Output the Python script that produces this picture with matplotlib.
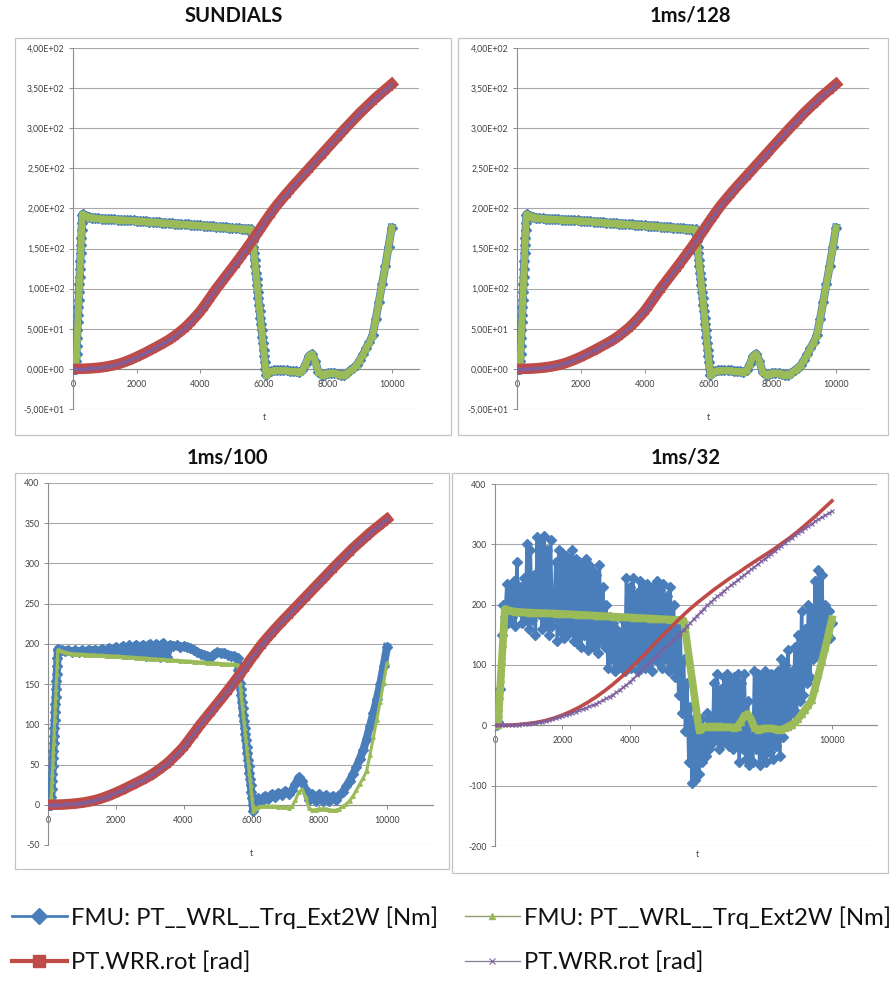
import numpy as np
import matplotlib.pyplot as plt
import matplotlib.transforms as mtransforms
from matplotlib.lines import Line2D
from matplotlib.patches import Rectangle
from matplotlib.ticker import FuncFormatter, MultipleLocator

# =========================
# DATOS
# =========================
C_BLUE = "#4A7EBB"
C_RED = "#BE4B48"
C_GREEN = "#9BBB59"
C_PURPLE = "#7D60A0"

# rotación de referencia (PT.WRR.rot), paso 100
t_rot = np.arange(0, 10001, 100)
rot_ref = [0, 0, 0.1, 0.2, 0.3, 0.5,
           0.8, 1.1, 1.5, 2.0, 2.5,
           3.2, 4.0, 4.9, 5.9, 7.0,
           8.4, 9.9, 11.5, 13.2, 15.0,
           16.9, 18.8, 20.8, 22.9, 25.0,
           27.1, 29.2, 31.4, 33.7, 36.0,
           38.7, 41.5, 44.5, 47.7, 51.0,
           54.8, 58.8, 63.0, 67.4, 72.0,
           77.4, 83.0, 88.6, 94.3, 100.0,
           105.2, 110.4, 115.6, 120.8, 126.0,
           131.3, 136.6, 142.0, 147.5, 153.0,
           158.7, 164.4, 170.2, 176.1, 182.0,
           187.8, 193.5, 199.0, 204.2, 209.0,
           213.8, 218.5, 223.1, 227.6, 232.0,
           236.4, 240.8, 245.2, 249.6, 254.0,
           258.4, 262.8, 267.2, 271.6, 276.0,
           280.4, 284.8, 289.2, 293.6, 298.0,
           302.2, 306.4, 310.6, 314.8, 319.0,
           322.8, 326.6, 330.4, 334.2, 338.0,
           341.4, 344.8, 348.2, 351.6, 355.0]

# rotación en 1ms/32
t_red32 = np.arange(0, 10001, 250)
rot_32 = [0, 0, 0.5, 1.5, 3, 5, 8, 12, 17, 23,
          30, 38, 47, 57, 68, 80, 93, 107, 121, 136,
          150, 164, 178, 191, 203, 214, 225, 235, 245, 254,
          264, 273, 282, 291, 301, 311, 322, 334, 346, 359,
          372]

# par (torque): tramos con distinto muestreo
t_rise = np.array([0, 30, 60] + list(range(90, 300, 10)))
t_plat = np.arange(300, 5601, 100)
t_drop = np.arange(5620, 6061, 20)
t_tail = np.arange(6100, 10001, 100)
t_trq = np.concatenate([t_rise, t_plat, t_drop, t_tail])

rise_ref = [0, 0, 0, 0, 10, 19, 29, 38, 48, 58, 67, 77, 86, 96, 106,
            115, 125, 134, 144, 154, 163, 173, 182, 192]
plat_ref = [193, 191, 189.5, 188.5, 188, 187.5, 187.2, 187, 186.8, 186.6,
            186.4, 186.1, 185.9, 185.6, 185.4, 185.2, 185, 184.8, 184.5, 184.2,
            183.9, 183.6, 183.3, 183, 182.7, 182.4, 182.1, 181.8, 181.5, 181.2,
            180.9, 180.6, 180.3, 180, 179.7, 179.4, 179.1, 178.8, 178.5, 178.2,
            177.9, 177.6, 177.3, 177, 176.7, 176.4, 176.1, 175.8, 175.5, 175.2,
            175, 174.8, 174.6, 174.2]
drop_ref = [168, 160, 152, 144, 136, 128, 120, 112, 104, 96, 88, 80, 72,
            64, 56, 48, 40, 32, 24, 16, 8, 0, -8]
tail_ref = [-5, -3, -2, -2, -2, -2, -2, -3, -3, -3,
            -4, -2, 6, 16, 19, 10, -4, -7, -6, -5,
            -5, -5, -6, -7, -7, -5, -2, 1, 5, 11,
            18, 26, 33, 42, 62, 84, 106, 128, 152, 176]

plat_100 = [194, 192, 191, 192, 190, 192, 190, 192, 190, 193,
            191, 193, 190, 194, 190, 195, 189, 196, 189, 197,
            188, 198, 187, 199, 186, 199, 185, 200, 185, 200,
            184, 201, 184, 199, 197, 198, 196, 197, 196, 195,
            192, 190, 188, 186, 185, 184, 187, 190, 189, 189,
            186, 185, 185, 182]
tail_100 = [3, 8, 5, 11, 7, 13, 10, 15, 12, 17,
            14, 18, 26, 34, 30, 18, 6, 13, 5, 13,
            5, 12, 5, 11, 6, 12, 16, 23, 30, 38,
            47, 57, 68, 82, 98, 114, 131, 150, 172, 196]

trq_ref = rise_ref + plat_ref + drop_ref + tail_ref
trq_100 = rise_ref + plat_100 + drop_ref + tail_100

# par en 1ms/32 (muy oscilante), paso 50
t_blue32 = np.arange(0, 10001, 50)
trq_32 = [0, 0, 5, 60, 150, 200, 180, 235, 170, 225,
          180, 240, 165, 270, 190, 230, 170, 245, 175, 300,
          160, 290, 175, 250, 150, 312, 185, 300, 160, 313,
          170, 290, 150, 308, 165, 180, 270, 140, 290, 155,
          285, 145, 280, 150, 270, 160, 290, 140, 275, 135,
          270, 130, 260, 150, 275, 125, 265, 140, 255, 130,
          250, 120, 265, 140, 230, 130, 200, 95, 180, 110,
          170, 90, 160, 95, 150, 100, 175, 90, 245, 100,
          230, 95, 245, 110, 220, 90, 240, 100, 230, 95,
          235, 100, 220, 90, 230, 110, 240, 105, 225, 95,
          235, 110, 215, 90, 230, 100, 200, 80, 170, 50,
          160, 20, 110, -10, 70, -60, 30, -95, 10, -90,
          0, -80, 10, -60, -20, -50, 20, -40, 10, -30,
          70, -20, 85, -40, 60, -30, 80, -20, 85, -35,
          75, -40, 80, -30, 85, -60, 70, -40, 85, -55,
          40, -65, 10, -60, 90, -40, 85, -65, 80, -50,
          90, -60, 75, -45, 85, -55, 80, -35, 90, -50,
          110, -20, 100, 10, 125, 0, 90, 20, 130, 20,
          150, 40, 190, 50, 160, 70, 200, 80, 190, 110,
          240, 120, 258, 130, 250, 140, 200, 150, 190, 145,
          170]

titles = ["SUNDIALS", "1ms/128", "1ms/100", "1ms/32"]
legend_labels = ["FMU: PT__WRL__Trq_Ext2W [Nm]", "PT.WRR.rot [rad]",
                 "FMU: PT__WRL__Trq_Ext2W [Nm]", "PT.WRR.rot [rad]"]

# =========================
# FIGURA
# =========================
W, H = 895, 983
fig = plt.figure(figsize=(W / 100, H / 100), dpi=100)
FONT = ["Lato", "DejaVu Sans"]


def sci_fmt(v, pos):
    return f"{v:.2E}".replace(".", ",")


def int_fmt(v, pos):
    return f"{v:.0f}"


# (grosor de línea, tamaño de marcador)
top = dict(blue=(5.8, 4.8), green=(4.8, 3.8), red=(7.6, 5.0, "s"), purple=(1.2, 3.0))
bl = dict(blue=(5.8, 5.0), green=(2.2, 2.5), red=(7.6, 5.0, "s"), purple=(1.2, 3.0))
br = dict(blue=(2.4, 4.8), green=(5.5, 4.5), red=(2.6, 0, None), purple=(1.0, 2.5))

panels = [
    dict(plot=(73, 48, 419, 409), box=(15, 38, 451, 435), title_xy=(234, 16), xmax=10857,
         ylim=(-50, 400), ystep=50, fmt=sci_fmt, blue=(t_trq, trq_ref),
         red=(t_rot, rot_ref), st=top),
    dict(plot=(517, 48, 869, 409), box=(458, 38, 888, 435), title_xy=(690, 16), xmax=11034,
         ylim=(-50, 400), ystep=50, fmt=sci_fmt, blue=(t_trq, trq_ref),
         red=(t_rot, rot_ref), st=top),
    dict(plot=(48, 483, 433, 845), box=(15, 473, 449, 869), title_xy=(227, 457), xmax=11359,
         ylim=(-50, 400), ystep=50, fmt=int_fmt, blue=(t_trq, trq_100),
         red=(t_rot, rot_ref), st=bl),
    dict(plot=(495, 484, 877, 846), box=(452, 473, 888, 873), title_xy=(686, 457), xmax=11337,
         ylim=(-200, 400), ystep=100, fmt=int_fmt, blue=(t_blue32, trq_32),
         red=(t_red32, rot_32), st=br),
]

for title, p in zip(titles, panels):
    x0, y0, x1, y1 = p["plot"]
    ax = fig.add_axes([x0 / W, 1 - y1 / H, (x1 - x0) / W, (y1 - y0) / H])

    bx0, by0, bx1, by1 = p["box"]
    fig.patches.append(Rectangle((bx0 / W, 1 - by1 / H), (bx1 - bx0) / W, (by1 - by0) / H,
                                 transform=fig.transFigure, fill=False,
                                 ec="#c4c4c4", lw=0.9))
    fig.text(p["title_xy"][0] / W, 1 - p["title_xy"][1] / H, title, ha="center",
             va="center", fontsize=14.5, fontweight="bold", family=FONT, color="#111111")

    st = p["st"]
    ax.plot(p["blue"][0], p["blue"][1], color=C_BLUE, lw=st["blue"][0], marker="D",
            ms=st["blue"][1], mec=C_BLUE, mfc=C_BLUE, zorder=3)
    ax.plot(t_trq, trq_ref, color=C_GREEN, lw=st["green"][0], marker="^",
            ms=st["green"][1], mec=C_GREEN, mfc=C_GREEN, zorder=4)
    rlw, rms, rmk = st["red"]
    ax.plot(p["red"][0], p["red"][1], color=C_RED, lw=rlw, marker=rmk, ms=rms,
            mec=C_RED, mfc=C_RED, zorder=5)
    ax.plot(t_rot, rot_ref, color=C_PURPLE, lw=st["purple"][0], marker="x",
            ms=st["purple"][1], mew=0.8, zorder=6)

    ax.set_xlim(0, p["xmax"])
    ax.set_ylim(*p["ylim"])
    ax.yaxis.set_major_locator(MultipleLocator(p["ystep"]))
    ax.yaxis.set_major_formatter(FuncFormatter(p["fmt"]))
    ax.set_xticks([0, 2000, 4000, 6000, 8000, 10000])
    ax.xaxis.set_major_formatter(FuncFormatter(int_fmt))

    ax.yaxis.grid(True, color="#a8a8a8", lw=0.8)
    ax.set_axisbelow(True)
    for s in ["top", "right"]:
        ax.spines[s].set_visible(False)
    ax.spines["bottom"].set_position(("data", 0))
    ax.spines["bottom"].set_color("#8c8c8c")
    ax.spines["left"].set_color("#8c8c8c")
    ax.spines["bottom"].set_linewidth(0.8)
    ax.spines["left"].set_linewidth(0.8)
    ax.tick_params(axis="both", length=3, width=0.7, color="#8c8c8c",
                   labelsize=6.3, labelcolor="#404040")
    ax.tick_params(axis="x", pad=5)
    ax.tick_params(axis="y", pad=3)
    for lab in ax.get_xticklabels() + ax.get_yticklabels():
        lab.set_family(FONT)

    trans = mtransforms.blended_transform_factory(ax.transData, ax.transAxes)
    ax.text(6000, -0.012, "t", transform=trans, ha="center", va="top", fontsize=6.3,
            family=FONT, color="#404040")

# =========================
# LEYENDA
# =========================
h_blue = Line2D([], [], color=C_BLUE, lw=2.0, marker="D", ms=8, mfc=C_BLUE, mec=C_BLUE)
h_red = Line2D([], [], color=C_RED, lw=3.0, marker="s", ms=9, mfc=C_RED, mec=C_RED)
h_green = Line2D([], [], color="#8E9E6E", lw=1.0, marker="^", ms=4.5, mfc=C_GREEN, mec=C_GREEN)
h_purple = Line2D([], [], color="#857E96", lw=0.9, marker="x", ms=5, mec=C_PURPLE, mew=0.8)

leg_font = dict(family=FONT, size=17.2)
for handles, labels, x in [([h_blue, h_red], legend_labels[:2], 12),
                           ([h_green, h_purple], legend_labels[2:], 465)]:
    leg = fig.legend(handles, labels, loc="upper left", bbox_to_anchor=(x / W, 1 - 906 / H),
                     frameon=False, prop=leg_font, handlelength=2.3, handletextpad=0.15,
                     borderpad=0, borderaxespad=0, labelspacing=0.95)
    for txt in leg.get_texts():
        txt.set_color("#111111")

fig.savefig("out.png", dpi=100)
